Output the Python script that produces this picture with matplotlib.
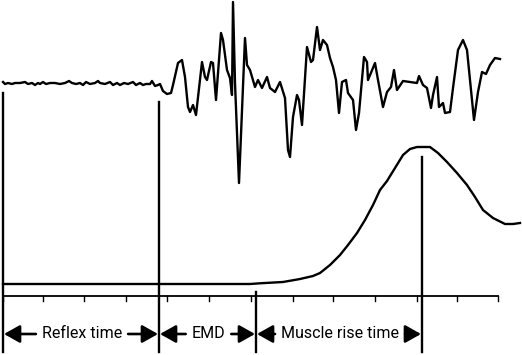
import matplotlib
matplotlib.use("Agg")
import matplotlib.pyplot as plt

# ---- data (time axis in sample units, signal values in display units, y grows downward) ----
emg_t = [3, 5, 8, 12, 15, 20, 25, 28, 32, 35, 38, 40, 43, 46, 50, 55, 60, 65, 69, 72, 76, 80,
         83, 86, 90, 95, 98, 100, 105, 110, 113, 117, 120, 124, 128, 133, 136, 140, 143, 146,
         150, 152, 155, 158, 160, 163, 167, 171, 173, 178, 182, 185, 188, 190, 193, 196, 202,
         205, 207, 211, 213, 216, 221, 223, 227, 230, 232, 233, 235, 239, 245, 247, 250, 255,
         258, 262, 267, 270, 275, 280, 285, 288, 290, 293, 297, 299, 302, 307, 311, 313, 317,
         320, 323, 327, 330, 333, 336, 339, 342, 346, 348, 353, 356, 359, 364, 367, 368, 375,
         378, 383, 387, 391, 394, 397, 403, 410, 417, 419, 423, 427, 431, 433, 437, 439, 443,
         445, 450, 453, 458, 463, 467, 474, 478, 482, 486, 490, 495, 500]
emg_v = [82, 84, 83, 84, 83, 83, 82, 84, 83, 85, 83, 84, 82, 84, 83, 83, 84, 83, 81, 83, 84, 83,
         85, 82, 84, 83, 81, 83, 84, 82, 85, 83, 85, 83, 84, 82, 85, 83, 85, 84,
         84, 81, 86, 85, 84, 91, 94, 93, 85, 63, 60, 77, 107, 112, 105, 115, 62,
         77, 80, 62, 63, 100, 33, 40, 70, 78, 95, 2, 83, 183, 38, 65, 70, 87,
         80, 88, 77, 88, 92, 82, 98, 150, 157, 117, 95, 100, 125, 47, 62, 60, 27,
         50, 40, 45, 58, 67, 80, 113, 82, 80, 93, 100, 130, 113, 57, 62, 80, 63,
         80, 107, 92, 87, 70, 90, 81, 82, 83, 76, 85, 88, 108, 95, 77, 107, 103,
         113, 112, 88, 50, 40, 50, 120, 92, 72, 74, 65, 58, 59]

force_t = [3, 250, 260, 283, 300, 313, 320, 330, 340, 348, 357, 365, 373, 380, 387, 395,
           403, 410, 417, 430, 438, 447, 457, 467, 475, 483, 493, 505, 513, 520]
force_v = [284, 284, 283.3, 282, 279, 276, 273, 265, 255, 245, 233, 220, 205, 190, 181, 168,
           155, 149, 147, 147, 153, 162, 173, 185, 197, 210, 218, 224, 224, 223]

axis_start, axis_end, axis_level = 3, 498, 296
tick_times = [3, 43, 84, 126, 167, 209, 251, 293, 333, 375, 417, 457, 498]

# event markers: time, top of the vertical line
event_t = [3, 159, 256, 422]
event_top = [93, 102, 292, 157]
marker_bottom = 352

# intervals between events and their labels
intervals = [(3, 159, "Reflex time"), (159, 256, "EMD"), (256, 422, "Muscle rise time")]
arrow_level = 334

fig = plt.figure(figsize=(5.22, 3.55), dpi=100)
ax = fig.add_axes([0, 0, 1, 1])
ax.set_xlim(0, 522)
ax.set_ylim(355, 0)
ax.axis("off")

ax.plot(emg_t, emg_v, color="black", lw=1.7, solid_joinstyle="round")
ax.plot(force_t, force_v, color="black", lw=1.7, solid_joinstyle="round")

ax.plot([axis_start, axis_end], [axis_level, axis_level], color="black", lw=1.3)
for t in tick_times:
    ax.plot([t, t], [axis_level, axis_level + 4.5], color="black", lw=1.0)

for t, top in zip(event_t, event_top):
    ax.plot([t, t], [top, marker_bottom], color="black", lw=1.7)

for start, end, label in intervals:
    txt = ax.text((start + end) / 2 + 1, arrow_level - 0.5, label, ha="center", va="center",
                  fontsize=11.5, family=["Roboto", "DejaVu Sans"])
    fig.canvas.draw()
    bb = txt.get_window_extent().transformed(ax.transData.inverted())
    left, right = min(bb.x0, bb.x1), max(bb.x0, bb.x1)
    ap = dict(arrowstyle="-|>,head_length=0.8,head_width=0.45", color="black", lw=1.9,
              shrinkA=0, shrinkB=0, mutation_scale=12)
    ax.annotate("", xy=(start + 1, arrow_level), xytext=(left - 6, arrow_level), arrowprops=ap)
    ax.annotate("", xy=(end - 1, arrow_level), xytext=(right + 6, arrow_level), arrowprops=ap)

fig.savefig("out.png", dpi=100)
